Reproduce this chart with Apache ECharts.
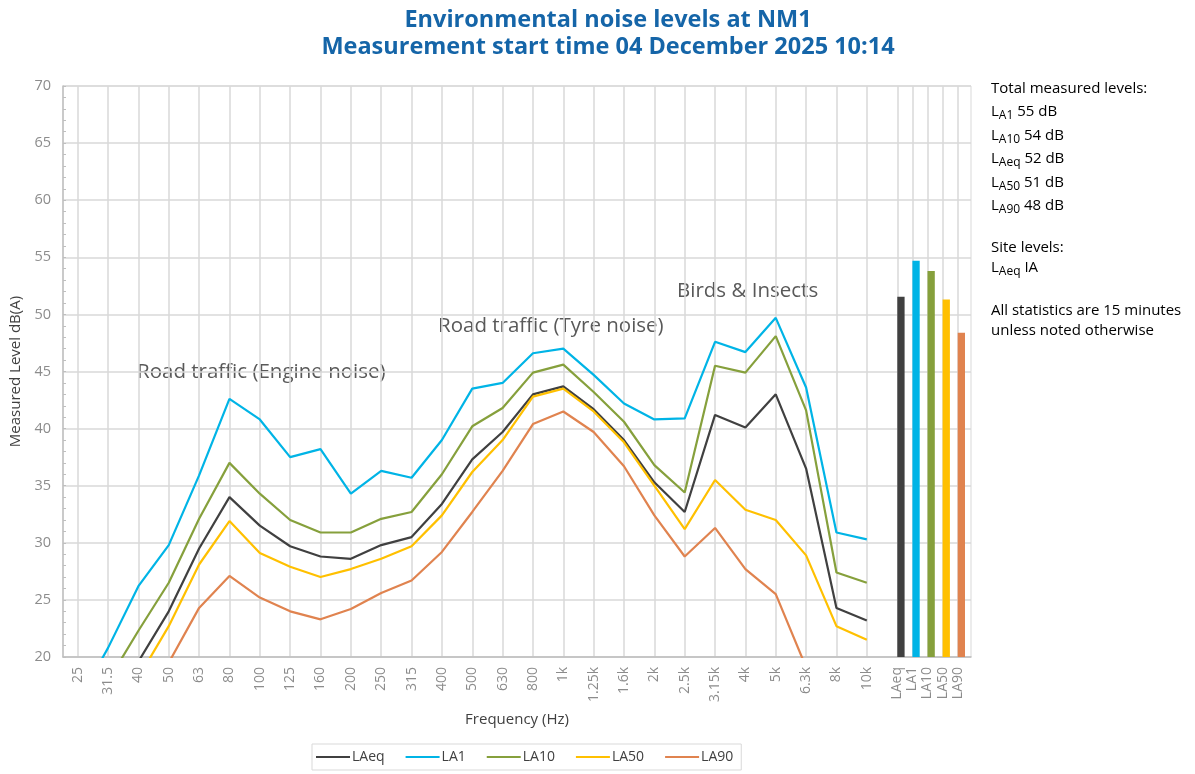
<!DOCTYPE html>
<html>
<head>
<meta charset="utf-8">
<script src="https://cdn.jsdelivr.net/npm/echarts@6/dist/echarts.min.js"></script>
<style>
  html, body { margin: 0; padding: 0; background: #fff; }
  #chart { width: 1195px; height: 774px; }
</style>
</head>
<body>
<div id="chart"></div>
<script>
// third-octave band centres
const freqs = ['25', '31.5', '40', '50', '63', '80', '100', '125', '160', '200', '250', '315', '400',
  '500', '630', '800', '1k', '1.25k', '1.6k', '2k', '2.5k', '3.15k', '4k', '5k', '6.3k', '8k', '10k']

// values below 20 fall under the axis and are clipped, as in the original
const laeq = [14.0, 16.0, 19.6, 24.0, 29.5, 34.0, 31.5, 29.7, 28.8, 28.6, 29.8, 30.5, 33.4,
  37.3, 39.7, 43.0, 43.7, 41.7, 39.0, 35.3, 32.7, 41.2, 40.1, 43.0, 36.5, 24.3, 23.2]
const la1 = [16.0, 20.8, 26.2, 29.8, 35.9, 42.6, 40.8, 37.5, 38.2, 34.3, 36.3, 35.7, 39.0,
  43.5, 44.0, 46.6, 47.0, 44.7, 42.2, 40.8, 40.9, 47.6, 46.7, 49.7, 43.6, 30.9, 30.3]
const la10 = [14.5, 17.9, 22.3, 26.5, 32.1, 37.0, 34.3, 32.0, 30.9, 30.9, 32.1, 32.7, 36.0,
  40.2, 41.8, 44.9, 45.6, 43.2, 40.6, 36.8, 34.4, 45.5, 44.9, 48.1, 41.6, 27.4, 26.5]
const la50 = [13.0, 15.0, 18.2, 22.7, 28.1, 31.9, 29.1, 27.9, 27.0, 27.7, 28.6, 29.7, 32.4,
  36.2, 39.0, 42.8, 43.5, 41.5, 38.8, 35.0, 31.2, 35.5, 32.9, 32.0, 28.9, 22.7, 21.5]
const la90 = [11.0, 13.0, 15.0, 19.5, 24.3, 27.1, 25.2, 24.0, 23.3, 24.2, 25.6, 26.7, 29.2,
  32.7, 36.3, 40.4, 41.5, 39.7, 36.7, 32.4, 28.8, 31.3, 27.7, 25.5, 19.1, 15.0, 14.0]

// overall levels (bars on the right)
const totalNames = ['LAeq', 'LA1', 'LA10', 'LA50', 'LA90']
const totalValues = [51.55, 54.7, 53.8, 51.3, 48.4]

// order used in the side panel
const panelOrder = ['LA1', 'LA10', 'LAeq', 'LA50', 'LA90']

const seriesColors = {
  LAeq: '#404040',
  LA1: '#00b4e6',
  LA10: '#86a03c',
  LA50: '#ffc000',
  LA90: '#e0834f'
}

const FONT = 'Open Sans'
const GRID_TOP = 86
const GRID_H = 571
const Y_MIN = 20
const Y_MAX = 70

function lineSeries(name, data) {
  return {
    name,
    type: 'line',
    xAxisIndex: 1,
    yAxisIndex: 1,
    data,
    showSymbol: false,
    symbol: 'none',
    clip: true,
    lineStyle: { width: 2.2, color: seriesColors[name] },
    itemStyle: { color: seriesColors[name] },
    z: 3
  }
}

function hiddenY(gridIndex) {
  return { type: 'value', gridIndex, min: Y_MIN, max: Y_MAX, interval: 5, show: false }
}

function panelLines() {
  const out = []
  out.push('{t|Total measured levels:}')
  for (const name of panelOrder) {
    const v = Math.round(totalValues[totalNames.indexOf(name)])
    out.push('{l|L}{s|' + name.slice(1) + '}{t| ' + v + ' dB}')
  }
  return out
}

const chart = echarts.init(document.getElementById('chart'))

function richStyle(lh) {
  return {
    t: { fontFamily: FONT, fontSize: 15, color: '#595959', lineHeight: lh },
    l: { fontFamily: FONT, fontSize: 15, color: '#595959', lineHeight: lh },
    s: { fontFamily: FONT, fontSize: 12, color: '#595959', lineHeight: lh, padding: [8, 0, 0, 0] }
  }
}

const annoStyle = { fontFamily: FONT, fontSize: 20.5, fill: '#595959' }

chart.setOption({
  animation: false,
  backgroundColor: '#ffffff',
  textStyle: { fontFamily: FONT },
  title: {
    text: 'Environmental noise levels at NM1\nMeasurement start time 04 December 2025 10:14',
    left: 603,
    top: 2,
    textAlign: 'center',
    textStyle: {
      fontFamily: FONT,
      fontSize: 23.5,
      fontWeight: 'bold',
      color: '#1565a8',
      lineHeight: 27
    }
  },
  legend: {
    data: ['LAeq', 'LA1', 'LA10', 'LA50', 'LA90'],
    left: 312,
    top: 744,
    icon: 'rect',
    itemWidth: 34,
    itemHeight: 2,
    itemGap: 21,
    padding: [6, 8, 6, 4],
    borderColor: '#d9d9d9',
    borderWidth: 1,
    textStyle: { fontFamily: FONT, fontSize: 14, color: '#404040', padding: [0, 0, 0, -3] }
  },
  grid: [
    { left: 63, top: GRID_TOP, width: 908, height: GRID_H, show: true, borderColor: '#d9d9d9', borderWidth: 1 },
    { left: 77.7, top: GRID_TOP, width: 789.1, height: GRID_H },
    { left: 897.3, top: GRID_TOP, width: 60.4, height: GRID_H }
  ],
  xAxis: [
    {
      type: 'value', gridIndex: 0, min: 0, max: 1,
      axisLine: { show: true, onZero: false, lineStyle: { color: '#bfbfbf', width: 1.5 } },
      axisTick: { show: false }, axisLabel: { show: false }, splitLine: { show: false },
      name: 'Frequency (Hz)', nameLocation: 'middle', nameGap: 55,
      nameTextStyle: { fontFamily: FONT, fontSize: 15, color: '#404040' }
    },
    {
      type: 'category', gridIndex: 1, data: freqs, boundaryGap: false,
      axisLine: { show: false }, axisTick: { show: false },
      axisLabel: { rotate: 90, interval: 0, margin: 10, fontSize: 14, color: '#8c8c8c', fontFamily: FONT },
      splitLine: { show: true, interval: 0, lineStyle: { color: '#d9d9d9', width: 1.5 } }
    },
    {
      type: 'category', gridIndex: 2, data: totalNames, boundaryGap: false,
      axisLine: { show: false }, axisTick: { show: false },
      axisLabel: { rotate: 90, interval: 0, margin: 10, fontSize: 14, color: '#8c8c8c', fontFamily: FONT },
      splitLine: { show: true, interval: 0, lineStyle: { color: '#d9d9d9', width: 1.5 } }
    }
  ],
  yAxis: [
    {
      type: 'value', gridIndex: 0, min: Y_MIN, max: Y_MAX, interval: 5,
      axisLine: { show: true, lineStyle: { color: '#bfbfbf', width: 1.5 } },
      axisTick: { show: true, inside: true, length: 3, lineStyle: { color: '#bfbfbf' } },
      minorTick: { show: true, splitNumber: 5, length: 3, lineStyle: { color: '#bfbfbf' } },
      axisLabel: { fontSize: 14.5, color: '#8c8c8c', margin: 12, fontFamily: FONT },
      splitLine: { show: true, lineStyle: { color: '#d9d9d9', width: 1.5 } },
      name: 'Measured Level dB(A)', nameLocation: 'middle', nameGap: 40,
      nameTextStyle: { fontFamily: FONT, fontSize: 15, color: '#404040' }
    },
    hiddenY(1),
    hiddenY(2)
  ],
  series: [
    lineSeries('LAeq', laeq),
    lineSeries('LA1', la1),
    lineSeries('LA10', la10),
    lineSeries('LA50', la50),
    lineSeries('LA90', la90),
    // empty partner so the real bar sits just right of each gridline
    {
      name: 'spacer', type: 'bar', xAxisIndex: 2, yAxisIndex: 2,
      data: totalNames.map(() => '-'), barWidth: 7.3, barGap: '0%'
    },
    {
      name: 'Total', type: 'bar', xAxisIndex: 2, yAxisIndex: 2,
      barWidth: 7.3, barGap: '0%',
      data: totalValues.map((v, i) => ({ value: v, itemStyle: { color: seriesColors[totalNames[i]] } })),
      z: 3
    }
  ],
  graphic: [
    { type: 'text', left: 137, top: 362, style: Object.assign({ text: 'Road traffic (Engine noise)' }, annoStyle) },
    { type: 'text', left: 438, top: 316, style: Object.assign({ text: 'Road traffic (Tyre noise)' }, annoStyle) },
    { type: 'text', left: 677, top: 281, style: Object.assign({ text: 'Birds & Insects' }, annoStyle) },
    { type: 'text', left: 991, top: 81, style: { text: panelLines().join('\n'), rich: richStyle(23.5) } },
    { type: 'text', left: 991, top: 240, style: { text: '{t|Site levels:}\n{l|L}{s|Aeq}{t| IA}', rich: richStyle(20) } },
    { type: 'text', left: 991, top: 303, style: { text: '{t|All statistics are 15 minutes}\n{t|unless noted otherwise}', rich: richStyle(20) } }
  ]
})
</script>
</body>
</html>
